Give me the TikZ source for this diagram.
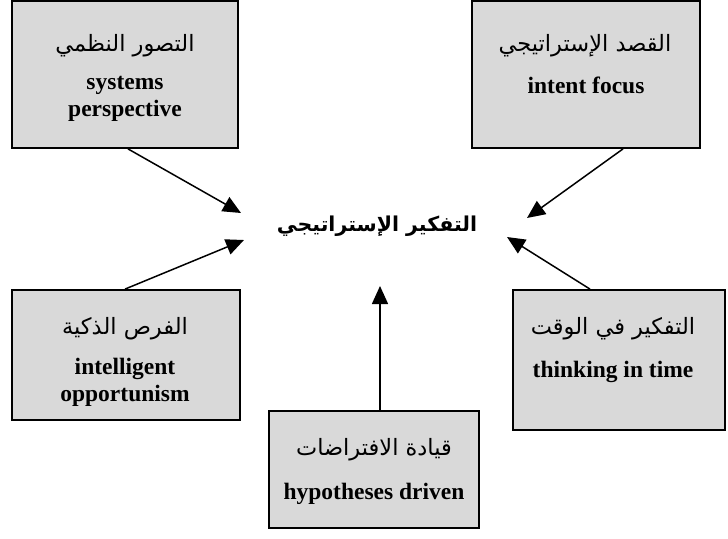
\documentclass[tikz,border=0pt]{standalone}
\usepackage{fontspec}
\setmainfont{Liberation Serif}
\newfontfamily\arabicfont[Script=Arabic]{DejaVu Sans}
\TeXXeTstate=1
\usetikzlibrary{arrows.meta,calc}
\newcommand{\ar}[1]{{\arabicfont\beginR #1\endR}}
\begin{document}
\begin{tikzpicture}[x=1pt, y=-1pt,
  box/.style={draw=black, line width=1.8pt, fill=black!15, inner sep=0pt},
  artext/.style={inner sep=0pt, font=\fontsize{22.5}{26}\selectfont},
  entext/.style={inner sep=0pt, align=center, font=\fontsize{23.5}{27}\selectfont\bfseries},
  link/.style={line width=1.5pt, -{Triangle[length=18pt, width=16pt]}}]
  \useasboundingbox (0,0) rectangle (728,538);

  % outer boxes
  \node[box, minimum width=226pt, minimum height=147pt] (b1) at (125,74.5) {};
  \node[box, minimum width=228pt, minimum height=147pt] (b2) at (586,74.5) {};
  \node[box, minimum width=228pt, minimum height=130pt] (b3) at (126,355) {};
  \node[box, minimum width=212pt, minimum height=140pt] (b4) at (619,360) {};
  \node[box, minimum width=210pt, minimum height=117pt] (b5) at (374,469.5) {};

  % box labels
  \node[artext] (a1) at (125,46) {\ar{التصور النظمي}};
  \node[entext] (e1) at (125,99) {systems\\perspective};
  \node[artext] (a2) at (585,46) {\ar{القصد الإستراتيجي}};
  \node[entext] (e2) at (586,85) {intent focus};
  \node[artext] (a3) at (125,329) {\ar{الفرص الذكية}};
  \node[entext] (e3) at (125,382) {intelligent\\opportunism};
  \node[artext] (a4) at (613,329) {\ar{التفكير في الوقت}};
  \node[entext] (e4) at (613,372) {thinking in time};
  \node[artext] (a5) at (374,450) {\ar{قيادة الافتراضات}};
  \node[entext] (e5) at (374,494) {hypotheses driven};

  % central concept
  \node[inner sep=0pt, font=\fontsize{20.5}{24}\selectfont\bfseries] (c) at (377,226) {\ar{التفكير الإستراتيجي}};

  % arrow ends
  \coordinate (s1) at ($(b1.south)+(3,0)$);
  \coordinate (s2) at ($(b2.south)+(37,0)$);
  \coordinate (s3) at ($(b3.north)+(-1,0)$);
  \coordinate (s4) at ($(b4.north)+(-29,0)$);
  \coordinate (s5) at ($(b5.north)+(6,0)$);
  \coordinate (t1) at (241,213);
  \coordinate (t2) at (527,218);
  \coordinate (t3) at (244,240);
  \coordinate (t4) at (507,237);
  \coordinate (t5) at (380,286);

  \draw[link] (s1) -- (t1);
  \draw[link] (s2) -- (t2);
  \draw[link] (s3) -- (t3);
  \draw[link] (s4) -- (t4);
  \draw[link] (s5) -- (t5);
\end{tikzpicture}
\end{document}
